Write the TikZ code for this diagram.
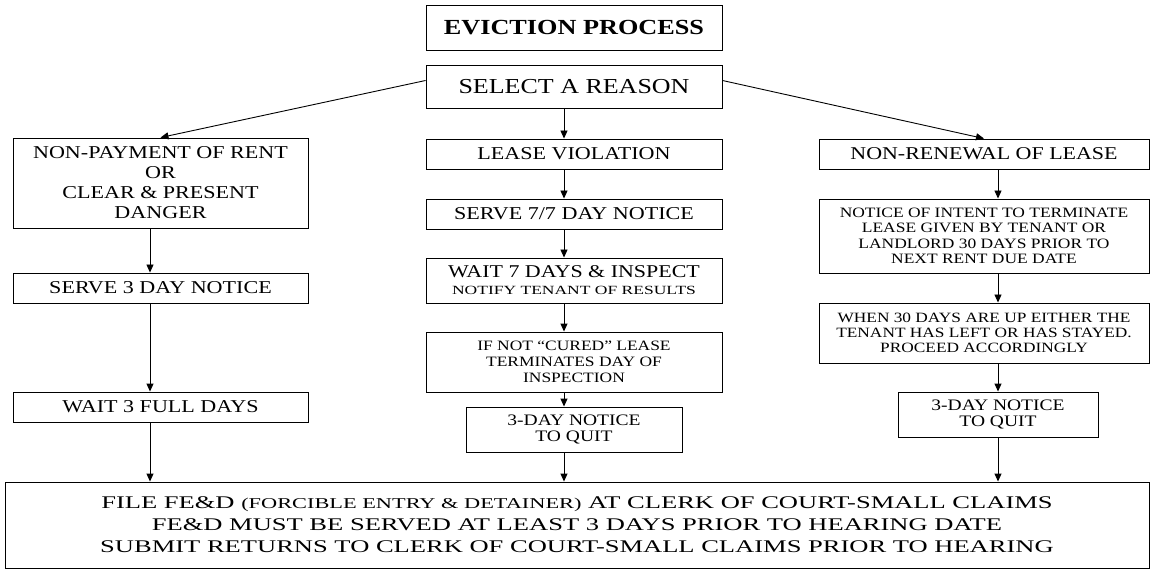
\documentclass[tikz,border=0pt]{standalone}
\usepackage{fontspec}
\setmainfont[FakeStretch=1.22]{Liberation Serif}
\newfontfamily\widerserif[FakeStretch=1.4]{Liberation Serif}
\newfontfamily\widestserif[FakeStretch=1.49]{Liberation Serif}
\usetikzlibrary{arrows.meta,calc}

\begin{document}
\begin{tikzpicture}[x=1pt,y=-1pt,
  box/.style={draw,line width=0.9pt,align=center,inner sep=0pt,font=\fontsize{18.1}{20}\selectfont},
  small/.style={box,font=\fontsize{14.3}{15.5}\selectfont},
  arr/.style={-{Triangle[length=8pt,width=7pt]},line width=0.9pt}]
  \useasboundingbox (0,0) rectangle (1151,569);
  \coordinate (leftx) at (150,0);
  \coordinate (midx) at (564,0);
  \coordinate (rightx) at (998,0);

  \node[box,font=\fontsize{21.5}{24}\selectfont\bfseries,minimum width=296,minimum height=45] (title) at (574,27.5) {EVICTION PROCESS};
  \node[box,font=\fontsize{21.3}{24}\selectfont,minimum width=296,minimum height=43] (reason) at (574,86.5) {SELECT A REASON};

  \node[box,minimum width=295,minimum height=90] (nonpay) at (160.5,183) {NON-PAYMENT OF RENT\\OR\\CLEAR \& PRESENT\\DANGER};
  \node[box,minimum width=295,minimum height=30] (serve3) at (160.5,288) {SERVE 3 DAY NOTICE};
  \node[box,minimum width=295,minimum height=30] (wait3) at (160.5,407) {WAIT 3 FULL DAYS};

  \node[box,minimum width=296,minimum height=30] (violation) at (574,154) {LEASE VIOLATION};
  \node[box,minimum width=296,minimum height=30] (serve77) at (574,214) {SERVE 7/7 DAY NOTICE};
  \node[box,font=\fontsize{18}{17}\selectfont,minimum width=296,minimum height=45] (wait7) at (574,280.5) {WAIT 7 DAYS \& INSPECT\\{\fontsize{12.5}{14}\widerserif NOTIFY TENANT OF RESULTS}};
  \node[small,font=\fontsize{14.3}{16}\selectfont,minimum width=296,minimum height=60] (cured) at (574,362) {IF NOT “CURED” LEASE\\TERMINATES DAY OF\\INSPECTION};
  \node[small,font=\fontsize{16}{16.7}\selectfont,minimum width=216,minimum height=45] (quitmid) at (574,429.5) {3-DAY NOTICE\\TO QUIT};

  \node[box,font=\fontsize{18}{20}\selectfont,minimum width=330,minimum height=30] (renewal) at (984,154) {NON-RENEWAL OF LEASE};
  \node[small,minimum width=330,minimum height=74] (intent) at (984,236) {NOTICE OF INTENT TO TERMINATE\\LEASE GIVEN BY TENANT OR\\LANDLORD 30 DAYS PRIOR TO\\NEXT RENT DUE DATE};
  \node[small,font=\fontsize{14.2}{15}\selectfont,minimum width=330,minimum height=60] (when30) at (984,333) {WHEN 30 DAYS ARE UP EITHER THE\\TENANT HAS LEFT OR HAS STAYED.\\PROCEED ACCORDINGLY};
  \node[small,font=\fontsize{16}{16.7}\selectfont,minimum width=200,minimum height=45] (quitright) at (998,414.5) {3-DAY NOTICE\\TO QUIT};

  \node[box,font=\fontsize{17.8}{22}\widestserif,minimum width=1144,minimum height=86] (filing) at (577,525) {FILE FE\&D {\fontsize{15}{16}\selectfont(FORCIBLE ENTRY \& DETAINER)} AT CLERK OF COURT-SMALL CLAIMS\\FE\&D MUST BE SERVED AT LEAST 3 DAYS PRIOR TO HEARING DATE\\SUBMIT RETURNS TO CLERK OF COURT-SMALL CLAIMS PRIOR TO HEARING};

  \draw[arr] ([yshift=6pt]reason.west) -- (nonpay.north);
  \draw[arr] ([yshift=6pt]reason.east) -- (renewal.north);
  \foreach \a/\b in {reason/violation,violation/serve77,serve77/wait7,wait7/cured,cured/quitmid,quitmid/filing}
    \draw[arr] (\a.south -| midx) -- (\b.north -| midx);
  \foreach \a/\b in {nonpay/serve3,serve3/wait3,wait3/filing}
    \draw[arr] (\a.south -| leftx) -- (\b.north -| leftx);
  \foreach \a/\b in {renewal/intent,intent/when30,when30/quitright,quitright/filing}
    \draw[arr] (\a.south -| rightx) -- (\b.north -| rightx);
\end{tikzpicture}
\end{document}
